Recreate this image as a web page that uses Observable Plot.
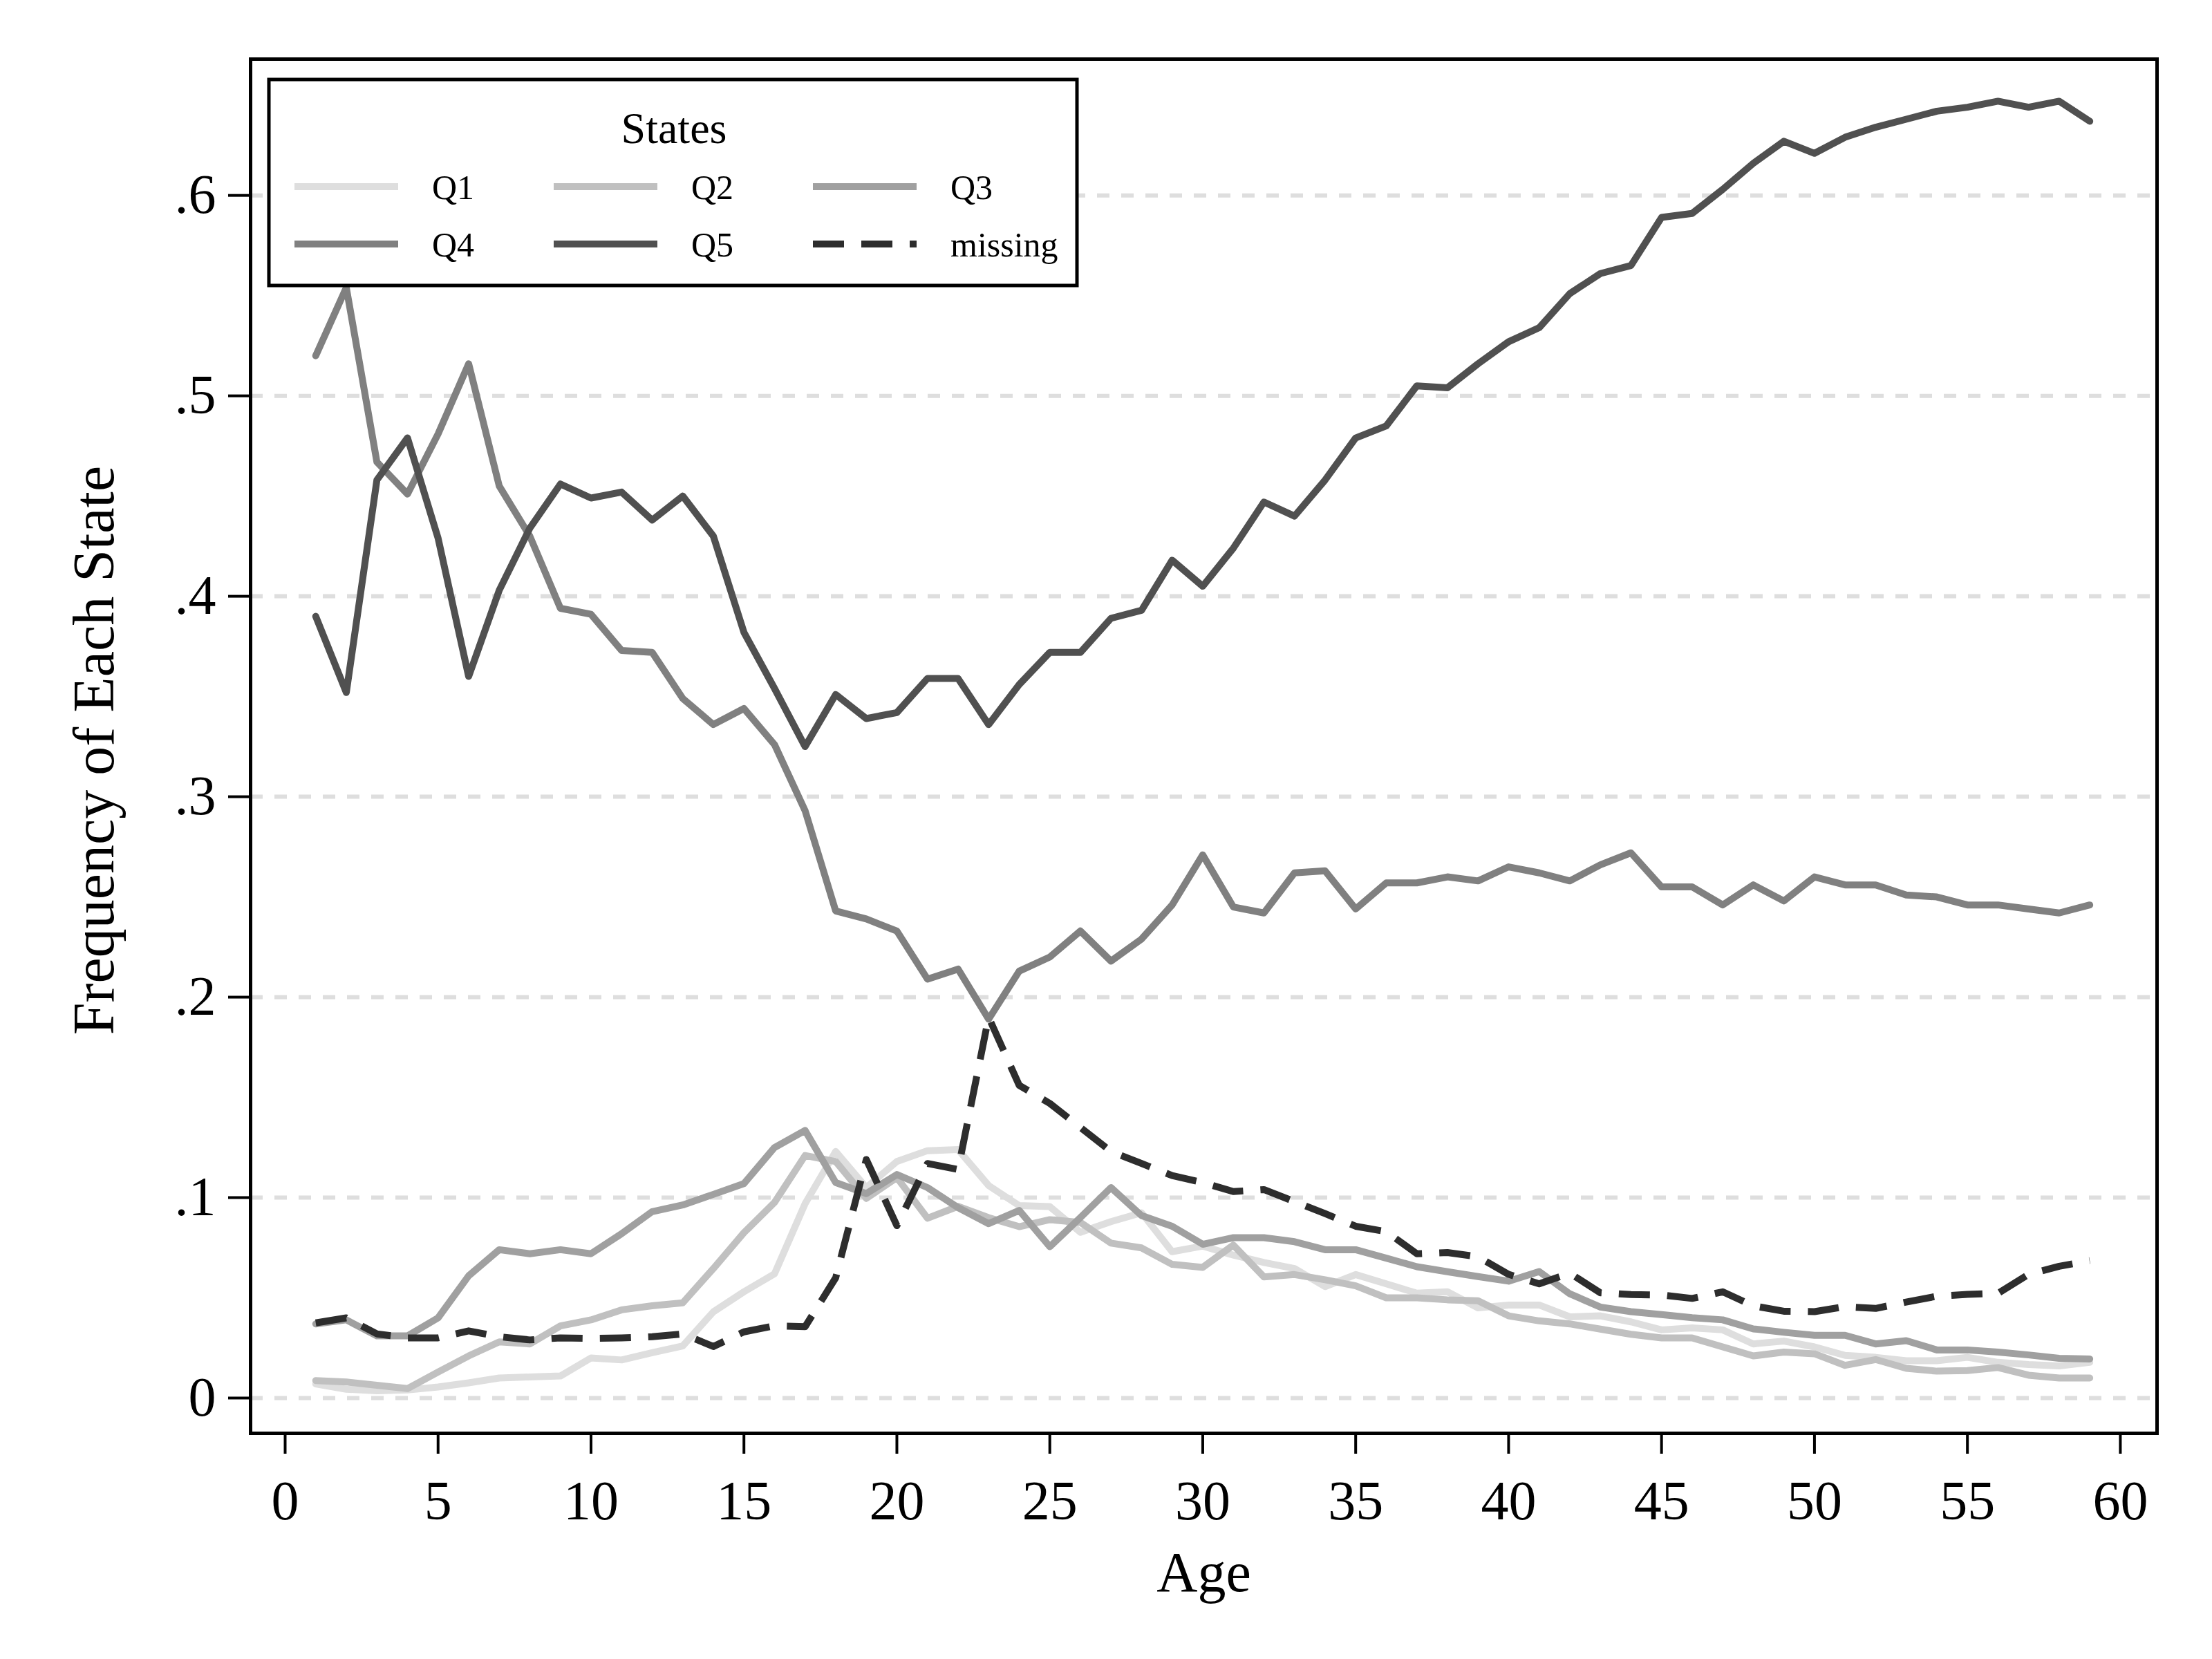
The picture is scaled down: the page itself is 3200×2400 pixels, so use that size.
<!DOCTYPE html>
<html>
<head>
<meta charset="utf-8">
<script src="https://cdn.jsdelivr.net/npm/d3@7"></script>
<script src="https://cdn.jsdelivr.net/npm/@observablehq/plot@0.6"></script>
<style>
  body { margin: 0; background: #fff; }
</style>
</head>
<body>
<div id="chart"></div>
<script>
const ages = [1,2,3,4,5,6,7,8,9,10,11,12,13,14,15,16,17,18,19,20,21,22,23,24,25,26,27,28,29,30,31,32,33,34,35,36,37,38,39,40,41,42,43,44,45,46,47,48,49,50,51,52,53,54,55,56,57,58,59];

const q1 = [.007,.0044,.0036,.004,.0055,.0076,.010,.0105,.011,.020,.019,.0226,.026,.043,.053,.062,.097,.123,.105,.118,.1234,.124,.106,.096,.0955,.0827,.088,.0924,.073,.0758,.0713,.0676,.0646,.0556,.0616,.057,.0523,.053,.045,.0464,.0464,.0405,.041,.038,.034,.035,.034,.027,.0284,.0255,.0213,.0203,.0186,.0186,.0203,.0178,.0167,.016,.0178];
const q2 = [.0087,.008,.0064,.0047,.013,.021,.028,.027,.036,.039,.044,.046,.0475,.0646,.0825,.0976,.121,.118,.0996,.110,.0897,.0956,.090,.0855,.089,.0876,.0773,.0749,.0667,.0652,.0763,.0604,.0616,.059,.056,.050,.050,.049,.0485,.041,.0385,.037,.0344,.0318,.030,.030,.0255,.021,.0229,.0221,.0163,.0192,.0148,.0134,.0137,.0152,.0114,.010,.010];
const q3 = [.037,.039,.031,.031,.040,.061,.074,.072,.074,.072,.082,.093,.0963,.1016,.107,.125,.1335,.1075,.102,.1115,.105,.095,.087,.0936,.0755,.090,.105,.091,.0857,.0767,.080,.080,.078,.074,.074,.0698,.0655,.063,.0606,.0583,.0631,.052,.0454,.0431,.0416,.0401,.039,.0345,.0328,.0313,.0313,.027,.0286,.024,.024,.0229,.0215,.0198,.0195];
const q4 = [.520,.554,.467,.451,.481,.516,.455,.430,.394,.391,.373,.372,.349,.336,.344,.326,.293,.243,.239,.233,.209,.214,.189,.213,.220,.233,.218,.229,.246,.271,.245,.242,.262,.263,.244,.257,.257,.260,.258,.265,.262,.258,.266,.272,.255,.255,.246,.256,.248,.260,.256,.256,.251,.250,.246,.246,.244,.242,.246];
const q5 = [.390,.352,.458,.479,.429,.360,.403,.434,.456,.449,.452,.438,.450,.430,.382,.354,.325,.351,.339,.342,.359,.359,.336,.356,.372,.372,.389,.393,.418,.405,.424,.447,.440,.458,.479,.485,.505,.504,.516,.527,.534,.551,.561,.565,.589,.591,.603,.616,.627,.621,.629,.634,.638,.642,.644,.647,.644,.647,.637];
const missing = [.0375,.040,.032,.030,.030,.0335,.0306,.029,.030,.0297,.030,.0306,.032,.0257,.033,.036,.0356,.060,.119,.086,.117,.114,.190,.156,.147,.135,.123,.117,.111,.1075,.103,.104,.098,.092,.0857,.083,.072,.0726,.0705,.0617,.057,.0623,.0525,.0516,.0514,.0497,.053,.046,.0433,.0431,.0456,.0447,.0479,.0508,.0517,.0522,.0617,.0657,.0686];

const seriesNames = ["Q1","Q2","Q3","Q4","Q5","missing"];
const seriesColors = ["#dedede","#c0c0c0","#a0a0a0","#808080","#505050","#2d2d2d"];
const seriesValues = [q1,q2,q3,q4,q5,missing];

const xTicks = [0,5,10,15,20,25,30,35,40,45,50,55,60];
const yTicks = [0,.1,.2,.3,.4,.5,.6];
const legendTitle = "States";
const xTitle = "Age";
const yTitle = "Frequency of Each State";

const solidData = [];
const dashData = [];
seriesNames.forEach((s, i) => {
  seriesValues[i].forEach((v, j) => {
    const row = {age: ages[j], value: v, state: s};
    if (s === "missing") dashData.push(row); else solidData.push(row);
  });
});

const yFmt = d => d === 0 ? "0" : d3.format(".1f")(d).replace(/^0/, "");
const serif = "'Liberation Serif', 'Times New Roman', serif";

const chart = Plot.plot({
  width: 3200,
  height: 2400,
  marginLeft: 362,
  marginRight: 80,
  marginTop: 85,
  marginBottom: 327,
  style: {fontFamily: serif, fontSize: "80px", background: "white", color: "black"},
  x: {domain: [-1.13, 61.2]},
  y: {domain: [-0.0176, 0.668]},
  color: {domain: seriesNames, range: seriesColors},
  marks: [
    Plot.gridY(yTicks, {stroke: "#dedede", strokeOpacity: 1, strokeWidth: 6, strokeDasharray: "18,17"}),
    Plot.lineY(solidData, {x: "age", y: "value", z: "state", stroke: "state", strokeWidth: 10}),
    Plot.lineY(dashData, {x: "age", y: "value", stroke: seriesColors[5], strokeWidth: 10, strokeDasharray: "45,25", strokeLinecap: "butt"}),
    Plot.frame({stroke: "black", strokeWidth: 5}),
    Plot.axisX({ticks: xTicks, tickSize: 30, tickPadding: 38, strokeWidth: 4, label: null, fontSize: 80}),
    Plot.axisY({ticks: yTicks, tickSize: 32, tickPadding: 18, strokeWidth: 4, tickFormat: yFmt, label: null, fontSize: 80}),
    Plot.text([xTitle], {frameAnchor: "bottom", textAnchor: "middle", lineAnchor: "bottom", dy: 228, fontSize: 82}),
    Plot.text([yTitle], {frameAnchor: "left", textAnchor: "middle", rotate: -90, dx: -225, dy: 6, lineAnchor: "middle", fontSize: 84})
  ]
});

document.getElementById("chart").appendChild(chart);

// Legend inside the plot area (top-left), built from the series arrays
const svg = d3.select(chart);
const lg = svg.append("g").attr("font-family", serif);
lg.append("rect")
  .attr("x", 389).attr("y", 115).attr("width", 1169).attr("height", 298)
  .attr("fill", "white").attr("stroke", "black").attr("stroke-width", 5);
lg.append("text")
  .attr("x", 975).attr("y", 207).attr("text-anchor", "middle")
  .attr("font-size", 64).attr("fill", "black").text(legendTitle);
seriesNames.forEach((s, i) => {
  const col = i % 3, row = Math.floor(i / 3);
  const kx = 426 + col * 375;
  const ky = 270 + row * 83;
  lg.append("line")
    .attr("x1", kx).attr("x2", kx + 150).attr("y1", ky).attr("y2", ky)
    .attr("stroke", seriesColors[i]).attr("stroke-width", 10)
    .attr("stroke-dasharray", s === "missing" ? "45,25" : null);
  lg.append("text")
    .attr("x", kx + 199).attr("y", ky + 18).attr("text-anchor", "start")
    .attr("font-size", 50).attr("fill", "black").text(s);
});
</script>
</body>
</html>
